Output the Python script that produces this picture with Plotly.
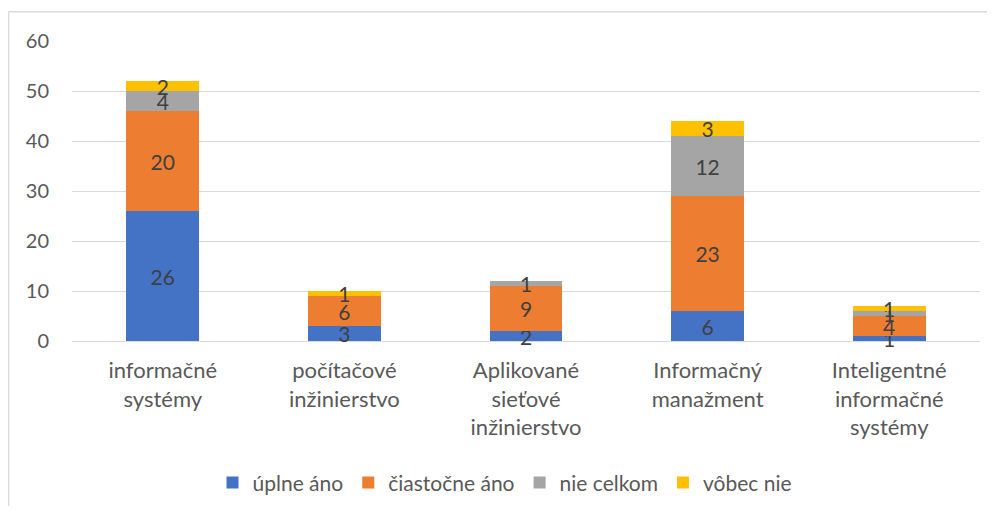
import plotly.graph_objects as go

categories = ["informačné<br>systémy", "počítačové<br>inžinierstvo", "Aplikované<br>sieťové<br>inžinierstvo",
              "Informačný<br>manažment", "Inteligentné<br>informačné<br>systémy"]
series_names = ["úplne áno", "čiastočne áno", "nie celkom", "vôbec nie"]
uplne_ano = [26, 3, 2, 6, 1]
ciastocne_ano = [20, 6, 9, 23, 4]
nie_celkom = [4, 0, 1, 12, 1]
vobec_nie = [2, 1, 0, 3, 1]
colors = ["#4472C4", "#ED7D31", "#A5A5A5", "#FFC000"]
y_ticks = [0, 10, 20, 30, 40, 50, 60]

FONT = "Lato, 'Open Sans', sans-serif"
W, H = 987, 507
L, R, T, B = 64, 15, 33, 165
pw, ph = W - L - R, H - T - B

fig = go.Figure()
for name, vals, col in zip(series_names, [uplne_ano, ciastocne_ano, nie_celkom, vobec_nie], colors):
    fig.add_trace(go.Bar(
        name=name, x=categories, y=vals, marker=dict(color=col, line=dict(width=0)),
        text=[str(v) if v else "" for v in vals], textposition="inside", textangle=0,
        insidetextanchor="middle", constraintext="none", cliponaxis=False,
        textfont=dict(size=21, color="#404040", family=FONT),
    ))

fig.update_layout(
    barmode="stack", bargap=0.6,
    width=W, height=H,
    margin=dict(l=L, r=R, t=T, b=B),
    plot_bgcolor="white", paper_bgcolor="white",
    font=dict(family=FONT, size=21, color="#595959"),
    showlegend=True,
    legend=dict(orientation="h", x=(505 - 72) / pw, xanchor="center", y=-(490 - 344) / ph, yanchor="middle",
                font=dict(size=21, color="#595959"), itemwidth=30, traceorder="normal"),
    xaxis=dict(showgrid=False, showline=False, ticks="", ticklabelstandoff=14,
               tickfont=dict(size=22, color="#595959")),
    yaxis=dict(range=[0, 60], tickvals=y_ticks, showgrid=True, gridcolor="#D9D9D9", gridwidth=1,
               zeroline=True, zerolinecolor="#D9D9D9", zerolinewidth=1,
               ticks="", ticklabelstandoff=22, tickfont=dict(size=20, color="#595959")),
    shapes=[dict(type="line", xref="paper", yref="paper", x0=(0.5 - L) / pw, x1=(0.5 - L) / pw,
                 y0=1 + (T - 3) / ph, y1=-(B + 5) / ph, line=dict(color="#D9D9D9", width=1.5)),
            dict(type="line", xref="paper", yref="paper", x0=(0.5 - L) / pw, x1=(W + 5 - L) / pw,
                 y0=1 + (T - 3) / ph, y1=1 + (T - 3) / ph, line=dict(color="#D9D9D9", width=1.5))],
)
fig.write_html("out.html")
